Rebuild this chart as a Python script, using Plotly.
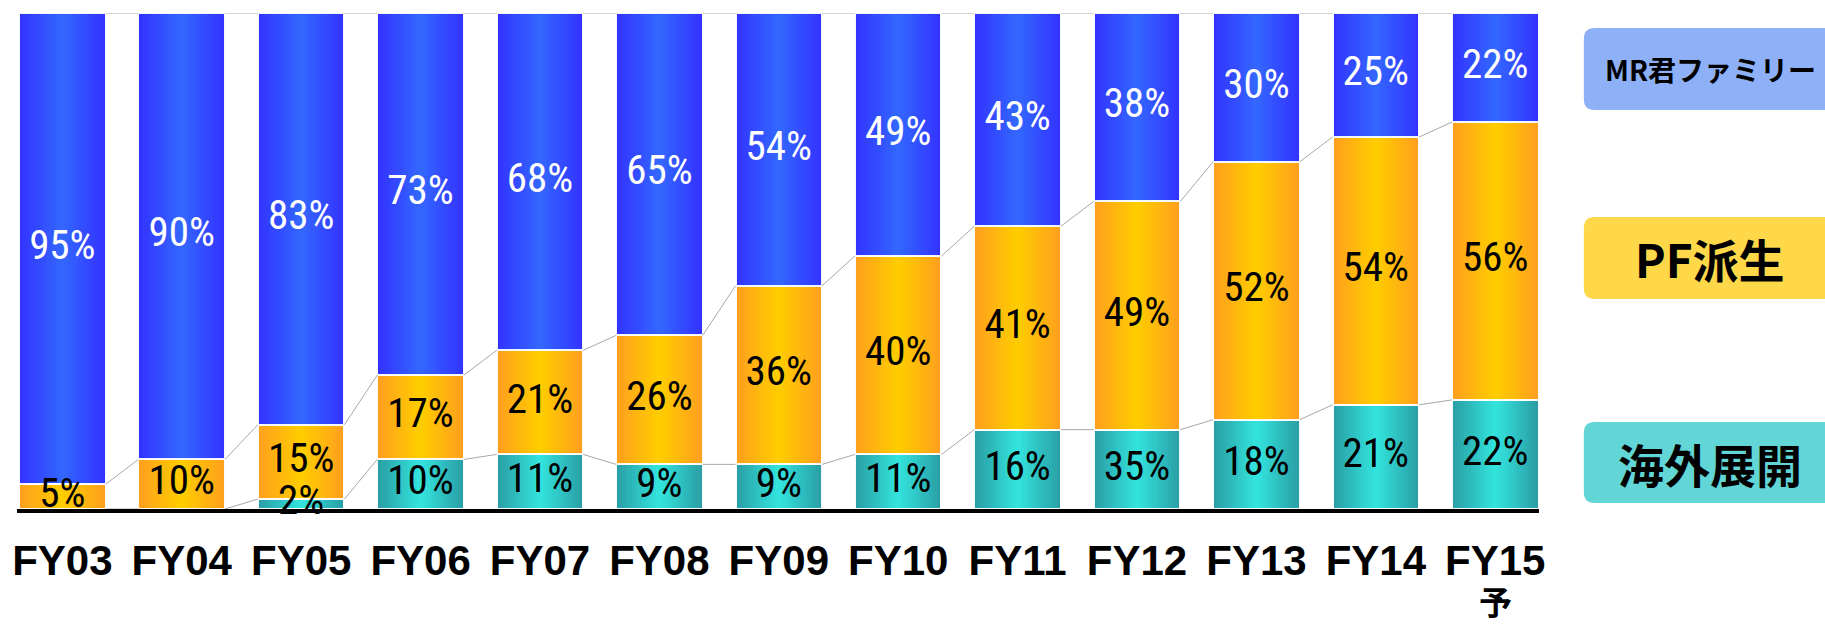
import plotly.graph_objects as go

# ---------------- data ----------------
categories = ["FY03", "FY04", "FY05", "FY06", "FY07", "FY08", "FY09",
              "FY10", "FY11", "FY12", "FY13", "FY14", "FY15"]
# segment heights (% of total)
overseas = [0, 0, 2, 10, 11, 9, 9, 11, 16, 16, 18, 21, 22]          # 海外展開
pf_derived = [5, 10, 15, 17, 21, 26, 36, 40, 41, 46, 52, 54, 56]     # PF派生
mr_family = [95, 90, 83, 73, 68, 65, 55, 49, 43, 38, 30, 25, 22]     # MR君ファミリー
# printed labels (as shown on the chart)
overseas_labels = ["", "", "2%", "10%", "11%", "9%", "9%", "11%", "16%", "35%", "18%", "21%", "22%"]
pf_labels = ["5%", "10%", "15%", "17%", "21%", "26%", "36%", "40%", "41%", "49%", "52%", "54%", "56%"]
mr_labels = ["95%", "90%", "83%", "73%", "68%", "65%", "54%", "49%", "43%", "38%", "30%", "25%", "22%"]
series_names = ["海外展開", "PF派生", "MR君ファミリー"]
last_note = "予"

# ---------------- style ----------------
BAR_W = 0.725
STEPS = 14
grad = {
    "海外展開": ((0x2A, 0xA0, 0xA6), (0x33, 0xE2, 0xDC)),
    "PF派生": ((0xFF, 0xA0, 0x1E), (0xFF, 0xCC, 0x00)),
    "MR君ファミリー": ((0x33, 0x33, 0xFF), (0x33, 0x66, 0xFF)),
}
legend_fill = {
    "海外展開": "#62D6D6",
    "PF派生": "#FFD84A",
    "MR君ファミリー": "#8DB0F6",
}
LABEL_FONT = "Roboto Condensed, DejaVu Sans Condensed, Roboto, sans-serif"


def mix(c1, c2, t):
    return "rgb(%d,%d,%d)" % tuple(round(a + (b - a) * t) for a, b in zip(c1, c2))


x = list(range(len(categories)))
values = [overseas, pf_derived, mr_family]
labels = [overseas_labels, pf_labels, mr_labels]

bases = []
run = [0] * len(x)
for v in values:
    bases.append(run[:])
    run = [a + b for a, b in zip(run, v)]
tops = [[b + h for b, h in zip(bs, v)] for bs, v in zip(bases, values)]

fig = go.Figure()

# connector lines between bars (segment tops)
for tp in tops:
    cx, cy = [], []
    for i in range(len(x) - 1):
        cx += [x[i] + BAR_W / 2, x[i + 1] - BAR_W / 2, None]
        cy += [tp[i], tp[i + 1], None]
    fig.add_trace(go.Scatter(x=cx, y=cy, mode="lines",
                             line=dict(color="#A8A8A8", width=1),
                             hoverinfo="skip", showlegend=False))

# gradient bars (overlaid narrowing bars)
for name, v, bs in zip(series_names, values, bases):
    edge, center = grad[name]
    for k in range(STEPS):
        w = BAR_W * (1 - k / STEPS)
        t = k / (STEPS - 1)
        fig.add_trace(go.Bar(x=x, y=v, base=bs, width=w,
                             marker=dict(color=mix(edge, center, t), line=dict(width=0)),
                             name=name, showlegend=False, hoverinfo="skip"))
    # outline
    fig.add_trace(go.Bar(x=x, y=v, base=bs, width=BAR_W,
                         marker=dict(color="rgba(0,0,0,0)",
                                     line=dict(color="rgba(255,255,255,0.95)", width=2)),
                         showlegend=False, hoverinfo="skip"))

# segment labels
for name, v, bs, lb in zip(series_names, values, bases, labels):
    fig.add_trace(go.Scatter(
        x=x, y=[b + h / 2 for b, h in zip(bs, v)], text=lb, mode="text",
        textposition="middle center",
        textfont=dict(family=LABEL_FONT, size=41,
                      color="white" if name == "MR君ファミリー" else "black"),
        cliponaxis=False, hoverinfo="skip", showlegend=False))

PLOT_L, PLOT_R, PLOT_T, PLOT_B = 12, 1539, 13, 509
PW, PH = PLOT_R - PLOT_L, PLOT_B - PLOT_T


def px_x(p):
    return (p - PLOT_L) / PW


def px_y(p):
    return (PLOT_B - p) / PH


# legend boxes on the right
boxes = {"MR君ファミリー": (28, 110), "PF派生": (217, 299), "海外展開": (422, 503)}
txt_size = {"MR君ファミリー": 28, "PF派生": 46, "海外展開": 46}
shapes, annotations = [], []
x0, x1 = px_x(1584), px_x(1840)
rx, ry = 11 / PW, 11 / PH
for name in ["MR君ファミリー", "PF派生", "海外展開"]:
    top, bot = boxes[name]
    y1, y0 = px_y(top), px_y(bot)
    path = (f"M {x0+rx},{y1} L {x1},{y1} L {x1},{y0} L {x0+rx},{y0} "
            f"Q {x0},{y0} {x0},{y0+ry} L {x0},{y1-ry} Q {x0},{y1} {x0+rx},{y1} Z")
    shapes.append(dict(type="path", path=path, xref="paper", yref="paper",
                       fillcolor=legend_fill[name], line=dict(width=0), layer="below"))
    annotations.append(dict(text=name, xref="paper", yref="paper",
                            x=px_x(1711), y=(y0 + y1) / 2, showarrow=False,
                            xanchor="center", yanchor="middle",
                            font=dict(family="Noto Sans CJK JP", size=txt_size[name],
                                      color="black", weight="bold")))

annotations.append(dict(text=last_note, x=x[-1], xref="x", yref="paper",
                        y=px_y(601), showarrow=False, xanchor="center", yanchor="middle",
                        font=dict(family="Noto Sans CJK JP", size=33, color="black",
                                  weight="bold")))

fig.update_layout(
    width=1825, height=627,
    margin=dict(l=PLOT_L, r=1825 - PLOT_R, t=PLOT_T, b=627 - PLOT_B, pad=0),
    barmode="overlay", bargap=0,
    plot_bgcolor="white", paper_bgcolor="white",
    showlegend=False,
    shapes=shapes, annotations=annotations,
    xaxis=dict(range=[(PLOT_L - 57.5) / 119.8, (PLOT_R - 57.5) / 119.8],
               tickvals=x, ticktext=categories, showgrid=False, zeroline=False,
               showline=True, linecolor="black", linewidth=4, ticks="",
               ticklabelstandoff=12,
               tickfont=dict(family="Liberation Sans", size=42, color="black", weight="bold"),
               fixedrange=True),
    yaxis=dict(range=[0, 100], visible=False, showgrid=False, zeroline=False,
               fixedrange=True),
)

fig.write_html("out.html", config={"displayModeBar": False},
               post_script="document.body.style.margin='0';document.body.style.overflow='hidden';")
